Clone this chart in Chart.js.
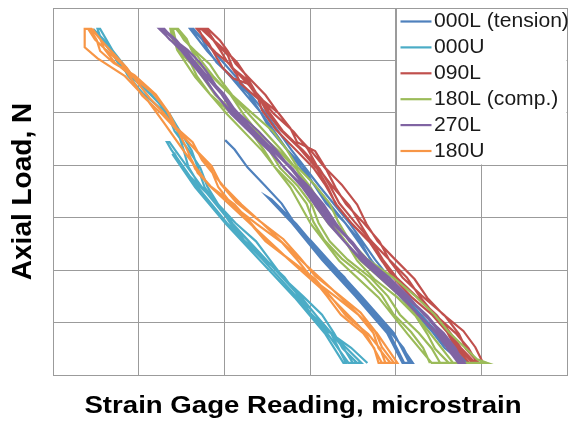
<!DOCTYPE html>
<html>
<head>
<meta charset="utf-8">
<script src="https://cdn.jsdelivr.net/npm/chart.js@4.4.1/dist/chart.umd.min.js"></script>
<style>
  html, body { margin: 0; padding: 0; background: #fff; }
  canvas { display: block; }
</style>
</head>
<body>
<canvas id="chart" width="571" height="421"></canvas>
<script>
// Axis grid (no tick labels in the original, grid units only)
const xMax = 6;
const yMax = 7;

const seriesNames = ['000L (tension)', '000U', '090L', '180L (comp.)', '270L', '180U'];
const seriesColors = ['#4F81BD', '#4BACC6', '#C0504D', '#9BBB59', '#8064A2', '#F79646'];

// [strain reading, axial load] pairs, in grid units
const s000L = [
  [1.62,6.60],[1.74,6.40],[1.81,6.20],[1.91,5.96],[2.07,5.72],[2.28,5.37],[2.42,5.02],[2.54,4.67],[2.72,4.32],[2.92,3.97],[3.05,3.62],[3.19,3.27],[3.40,2.92],[3.58,2.57],[3.70,2.22],[3.84,1.87],[4.04,1.52],[4.27,1.17],[4.43,0.82],[4.57,0.52],[4.78,0.23],
  [4.84,0.23],[4.49,0.80],[4.10,1.50],[3.76,2.20],[3.46,2.90],[3.11,3.60],[2.78,4.30],[2.48,5.00],[2.13,5.70],[1.86,6.20],[1.64,6.60],
  [1.60,6.60],[1.80,6.18],[2.08,5.68],[2.44,4.98],[2.74,4.28],[3.07,3.58],[3.42,2.88],[3.72,2.18],[4.06,1.48],[4.45,0.78],[4.80,0.23]
];
const s000Lb = [
  [2.01,4.48],[2.12,4.30],[2.27,3.96],[2.47,3.62],[2.67,3.27],[2.81,2.92],[2.97,2.57],[3.18,2.22],[3.40,1.87],[3.56,1.52],[3.72,1.17],[3.94,0.82],[4.09,0.52],[4.18,0.23],
  [4.08,0.23],[3.90,0.80],[3.53,1.50],[3.14,2.20],[2.79,2.90],[2.50,3.40],
  [2.55,3.35],[2.84,2.88],[3.20,2.18],[3.59,1.48],[3.97,0.78],[4.20,0.23],
  [4.10,0.23],[3.92,0.82],[3.55,1.52],[3.16,2.22],[2.95,2.60],
  [3.00,2.58],[3.21,2.20],[3.60,1.50],[3.98,0.80],[4.16,0.23]
];
const s000U = [
  [0.47,6.60],[0.59,6.40],[0.67,6.20],[0.76,5.95],[0.90,5.70],[1.15,5.35],[1.33,5.00],[1.42,4.65],[1.58,4.30],[1.72,3.95],[1.80,3.60],[1.93,3.25],[2.13,2.90],[2.37,2.55],[2.53,2.20],[2.69,1.85],[2.92,1.50],[3.14,1.15],[3.28,0.80],[3.38,0.51],[3.55,0.23],
  [3.45,0.23],[3.20,0.80],[2.84,1.50],[2.45,2.20],[2.03,2.90],[1.68,3.60],[1.38,4.30],[1.33,4.44],
  [1.36,4.44],[1.43,4.28],[1.74,3.58],[2.09,2.88],[2.50,2.18],[2.89,1.48],[3.26,0.78],[3.60,0.23],
  [3.50,0.23],[3.39,0.52],[3.23,0.82],[3.01,1.17],[2.86,1.52],[2.70,1.87],[2.47,2.22],[2.23,2.57],[2.06,2.92],[1.92,3.27],[1.71,3.62],[1.58,3.97],[1.52,4.32],[1.45,4.67],[1.30,5.02],[1.05,5.37],[0.87,5.72],[0.79,5.97],[0.65,6.22],[0.56,6.41],[0.52,6.60],
  [0.55,6.60],[0.70,6.18],[0.94,5.68],[1.36,4.98],[1.62,4.28],[1.77,3.58],[2.10,2.88],[2.50,2.18],[2.90,1.48],[3.25,0.78],[3.42,0.23],
  [3.39,0.23],[3.18,0.78],[2.82,1.48],[2.42,2.18],[2.02,2.88],[1.66,3.58],[1.40,4.20],
  [1.42,4.22],[1.52,3.92],[1.70,3.62],[1.92,3.27],[2.06,2.92],[2.22,2.57],[2.46,2.22],[2.70,1.87],[2.86,1.52],[3.00,1.17],[3.22,0.82],[3.48,0.52],[3.67,0.23]
];
const s090L = [
  [4.97,0.23],[4.82,0.50],[4.74,0.78],[4.57,1.14],[4.30,1.52],[4.08,1.86],[3.93,2.18],[3.81,2.55],[3.61,2.93],[3.42,3.26],[3.30,3.57],[3.19,3.92],[3.01,4.28],[2.79,4.66],[2.62,5.02],[2.48,5.34],[2.28,5.68],[2.13,5.94],[2.04,6.18],[1.95,6.38],[1.81,6.60],
  [1.70,6.60],[1.77,6.37],[1.90,6.15],[2.05,5.95],[2.14,5.74],[2.19,5.56],[2.30,5.40],[2.43,5.22],[2.49,5.03],[2.65,4.68],[2.88,4.32],[3.08,3.94],[3.21,3.58],[3.30,3.26],[3.47,2.92],[3.68,2.57],[3.82,2.23],[3.97,1.86],[4.19,1.48],[4.43,1.14],[4.60,0.82],[4.70,0.52],[4.86,0.23],
  [5.02,0.23],[4.93,0.53],[4.79,0.84],[4.55,1.16],[4.37,1.47],[4.22,1.83],[3.99,2.21],[3.79,2.55],[3.66,2.88],[3.55,3.25],[3.37,3.63],[3.18,3.95],[3.06,4.27],[2.85,4.44],[2.77,4.71],[2.63,5.00],[2.45,5.24],[2.33,5.46],[2.25,5.65],[2.10,5.85],[2.04,6.10],[1.89,6.36],[1.79,6.60],
  [1.68,6.60],[1.82,6.32],[1.91,6.05],[1.98,5.86],[2.10,5.66],[2.28,5.55],[2.39,5.30],[2.44,5.05],[2.60,4.68],[2.83,4.30],[3.04,3.95],[3.18,3.62],[3.31,3.25],[3.50,2.86],[3.71,2.51],[3.84,2.17],[3.99,1.86],[4.22,1.53],[4.46,1.14],[4.63,0.77],[4.74,0.50],[4.90,0.23],
  [4.95,0.23],[4.85,0.51],[4.70,0.80],[4.45,1.16],[4.28,1.50],[4.13,1.86],[3.90,2.24],[3.70,2.58],[3.58,2.90],[3.46,3.23],[3.27,3.58],[3.09,3.96],[2.97,4.32],[2.81,4.64],[2.58,4.98],[2.38,5.36],[2.25,5.72],[2.15,5.96],[1.99,6.22],[1.85,6.42],[1.76,6.60],
  [1.73,6.60],[1.87,6.39],[1.95,6.20],[2.04,5.96],[2.19,5.70],[2.39,5.35],[2.52,5.02],[2.68,4.66],[2.92,4.28],[3.11,3.94],[3.23,3.62],[3.34,3.28],[3.52,2.92],[3.72,2.55],[3.85,2.20],[4.01,1.86],[4.24,1.50],[4.48,1.14],[4.64,0.80],[4.76,0.52],[4.93,0.23]
];
const s180L = [
  [4.40,0.23],[4.32,0.52],[4.18,0.82],[3.97,1.17],[3.84,1.52],[3.64,1.87],[3.37,2.22],[3.17,2.57],[3.04,2.92],[2.96,3.27],[2.80,3.62],[2.59,3.96],[2.46,4.30],[2.30,4.66],[2.06,5.02],[1.83,5.36],[1.68,5.70],[1.61,5.94],[1.47,6.18],[1.40,6.39],[1.37,6.60],
  [1.46,6.60],[1.56,6.41],[1.61,6.22],[1.69,5.97],[1.84,5.72],[2.07,5.35],[2.22,4.98],[2.39,4.63],[2.63,4.28],[2.84,3.93],[2.97,3.58],[3.06,3.23],[3.22,2.88],[3.42,2.53],[3.55,2.18],[3.75,1.83],[4.02,1.48],[4.23,1.13],[4.37,0.78],[4.46,0.50],[4.62,0.23],
  [4.52,0.23],[4.42,0.51],[4.27,0.80],[4.05,1.15],[3.91,1.50],[3.71,1.85],[3.44,2.20],[3.23,2.55],[3.10,2.90],[3.02,3.25],[2.86,3.60],[2.65,3.95],[2.52,4.30],[2.36,4.65],[2.12,5.00],[1.89,5.35],[1.74,5.70],[1.66,5.95],[1.51,6.20],[1.43,6.40],[1.40,6.60],
  [1.45,6.60],[1.53,6.39],[1.66,6.18],[1.83,5.93],[1.93,5.68],[2.09,5.34],[2.32,5.00],[2.56,4.66],[2.72,4.32],[2.85,3.97],[3.06,3.62],[3.23,3.27],[3.33,2.92],[3.46,2.57],[3.66,2.22],[3.97,1.86],[4.22,1.52],[4.45,1.16],[4.62,0.82],[4.95,0.30],[5.07,0.23],
  [4.42,0.23],[4.14,0.78],[3.80,1.48],[3.34,2.18],[3.01,2.88],[2.77,3.58],[2.44,4.28],[2.03,4.98],[1.66,5.68],[1.45,6.20],[1.38,6.60],
  [1.44,6.60],[1.63,6.20],[1.87,5.70],[2.26,5.02],[2.66,4.30],[3.00,3.60],[3.25,2.90],[3.58,2.20],[4.06,1.50],[4.40,0.80],[4.67,0.23]
];
const s270L = [
  [4.74,0.23],[4.64,0.51],[4.49,0.80],[4.26,1.15],[4.08,1.50],[3.87,1.85],[3.61,2.20],[3.40,2.55],[3.23,2.90],[3.10,3.25],[2.92,3.60],[2.70,3.95],[2.53,4.30],[2.33,4.65],[2.09,5.00],[1.90,5.35],[1.76,5.70],[1.66,5.95],[1.51,6.20],[1.36,6.40],[1.25,6.60],
  [1.29,6.60],[1.44,6.39],[1.55,6.18],[1.66,5.93],[1.81,5.68],[2.00,5.35],[2.14,5.02],[2.34,4.65],[2.58,4.28],[2.80,3.93],[2.97,3.58],[3.11,3.23],[3.29,2.88],[3.50,2.53],[3.66,2.18],[3.88,1.83],[4.14,1.48],[4.37,1.13],[4.55,0.78],[4.65,0.50],[4.80,0.23],
  [4.76,0.23],[4.61,0.52],[4.51,0.82],[4.33,1.17],[4.10,1.52],[3.84,1.87],[3.62,2.22],[3.46,2.57],[3.25,2.92],[3.07,3.27],[2.93,3.62],[2.76,3.97],[2.54,4.32],[2.30,4.67],[2.10,5.02],[1.96,5.37],[1.77,5.72],[1.62,5.97],[1.52,6.22],[1.41,6.41],[1.26,6.60],
  [1.30,6.60],[1.41,6.40],[1.57,6.20],[1.72,5.95],[1.83,5.70],[1.97,5.35],[2.16,5.00],[2.40,4.65],[2.60,4.30],[2.77,3.95],[2.98,3.60],[3.16,3.25],[3.30,2.90],[3.46,2.55],[3.67,2.20],[3.93,1.85],[4.15,1.50],[4.33,1.15],[4.56,0.80],[4.70,0.51],[4.79,0.23],
  [4.73,0.23],[4.48,0.78],[4.07,1.48],[3.60,2.18],[3.22,2.88],[2.91,3.58],[2.52,4.28],[2.08,4.98],[1.75,5.68],[1.50,6.18],[1.24,6.60],
  [1.28,6.60],[1.56,6.16],[1.82,5.66],[2.15,4.98],[2.59,4.26],[2.99,3.56],[3.31,2.86],[3.68,2.16],[4.16,1.46],[4.57,0.76],[4.81,0.23]
];
const s180U = [
  [0.46,6.60],[0.58,6.35],[0.86,5.86],[0.98,5.59],[1.13,5.28],[1.28,5.02],[1.40,4.77],[1.63,4.44],[1.74,4.10],[1.98,3.62],[2.20,3.25],[2.44,2.90],[2.90,2.18],[3.36,1.48],[3.78,0.80],[4.02,0.23],
  [3.84,0.23],[3.64,0.82],[3.22,1.52],[2.74,2.22],[2.28,2.92],[1.82,3.62],[1.55,4.22],[1.30,4.80],[1.10,5.25],[0.84,5.70],[0.52,6.04],[0.37,6.25],[0.37,6.60],
  [0.43,6.60],[0.51,6.39],[0.55,6.18],[0.71,5.95],[0.95,5.72],[1.20,5.35],[1.36,4.98],[1.46,4.64],[1.66,4.30],[1.84,3.94],[1.93,3.58],[2.10,3.23],[2.38,2.88],[2.67,2.53],[2.86,2.18],[3.03,1.83],[3.31,1.48],[3.57,1.14],[3.74,0.80],[3.80,0.51],[3.94,0.23],
  [3.88,0.23],[3.82,0.50],[3.68,0.78],[3.42,1.13],[3.25,1.48],[3.06,1.83],[2.78,2.18],[2.50,2.53],[2.32,2.88],[2.13,3.23],[1.85,3.58],[1.66,3.93],[1.57,4.28],[1.47,4.63],[1.27,4.98],[1.04,5.33],[0.90,5.68],[0.80,5.94],[0.62,6.20],[0.49,6.40],[0.41,6.60],
  [0.45,6.60],[0.55,6.41],[0.60,6.22],[0.72,5.96],[0.92,5.70],[1.17,5.37],[1.33,5.04],[1.44,4.69],[1.64,4.34],[1.85,3.99],[1.96,3.64],[2.14,3.29],[2.41,2.94],[2.69,2.59],[2.88,2.24],[3.06,1.89],[3.33,1.54],[3.59,1.19],[3.76,0.84],[3.84,0.53],[3.98,0.23],
  [3.80,0.23],[3.75,0.51],[3.62,0.80],[3.36,1.15],[3.20,1.50],[3.03,1.85],[2.76,2.20],[2.48,2.55],[2.30,2.90],[2.12,3.25],[1.84,3.60],[1.69,3.85],[1.62,4.10]
];

const gridColor = '#9b9b9b';

// series index -> point lists (000L has a second, lower group of cycles)
const runs = [
  { s: 0, pts: s000L }, { s: 0, pts: s000Lb },
  { s: 1, pts: s000U },
  { s: 2, pts: s090L },
  { s: 3, pts: s180L },
  { s: 4, pts: s270L },
  { s: 5, pts: s180U }
];

const datasets = runs.map((r) => ({
  label: seriesNames[r.s],
  data: r.pts.map(p => ({ x: p[0], y: p[1] })),
  showLine: true,
  borderColor: seriesColors[r.s],
  backgroundColor: seriesColors[r.s],
  borderWidth: 2.2,
  pointRadius: 0,
  tension: 0,
  fill: false,
  order: 10 - r.s   // later series drawn on top, as in the original
}));

// white legend box over the top-right grid cells + x axis title
const overlay = {
  id: 'overlay',
  afterDraw(chart) {
    const ctx = chart.ctx;
    const xs = chart.scales.x, ys = chart.scales.y;
    const x0 = Math.round(xs.getPixelForValue(4)) + 0.5;
    const x1 = Math.round(xs.getPixelForValue(6)) - 0.5;
    const y0 = Math.round(ys.getPixelForValue(7)) + 0.5;
    const y1 = Math.round(ys.getPixelForValue(4)) - 0.5;
    ctx.save();
    ctx.fillStyle = '#fff';
    ctx.fillRect(x0, y0, x1 - x0, y1 - y0);
    ctx.strokeStyle = gridColor;
    ctx.lineWidth = 1;
    ctx.strokeRect(x0, y0, x1 - x0 + 1, y1 - y0 + 1);

    ctx.font = '20px "Liberation Sans", Arial, sans-serif';
    ctx.textBaseline = 'middle';
    ctx.fillStyle = '#1a1a1a';
    seriesNames.forEach((name, i) => {
      const y = y0 + 13 + i * 25.9;
      ctx.strokeStyle = seriesColors[i];
      ctx.lineWidth = 2.2;
      ctx.beginPath();
      ctx.moveTo(x0 + 4, y);
      ctx.lineTo(x0 + 35, y);
      ctx.stroke();
      ctx.save();
      ctx.translate(x0 + 37.5, y);
      ctx.scale(1.055, 1);
      ctx.fillText(name, 0, 0);
      ctx.restore();
    });

    // x axis title
    ctx.font = 'bold 24px "Liberation Sans", Arial, sans-serif';
    ctx.textBaseline = 'alphabetic';
    ctx.textAlign = 'center';
    ctx.fillStyle = '#000';
    ctx.translate(303, 413);
    ctx.scale(1.15, 1);
    ctx.fillText('Strain Gage Reading, microstrain', 0, 0);
    ctx.restore();
  }
};

new Chart(document.getElementById('chart').getContext('2d'), {
  type: 'scatter',
  data: { datasets: datasets },
  options: {
    responsive: false,
    devicePixelRatio: 1,
    animation: false,
    layout: { padding: { left: 0, right: 4, top: 8, bottom: 46 } },
    plugins: {
      legend: { display: false },
      tooltip: { enabled: false }
    },
    scales: {
      x: {
        type: 'linear',
        min: 0,
        max: xMax,
        ticks: { display: false, stepSize: 1 },
        grid: { color: gridColor, lineWidth: 1, drawTicks: false },
        border: { color: gridColor, width: 1 }
      },
      y: {
        type: 'linear',
        min: 0,
        max: yMax,
        ticks: { display: false, stepSize: 1 },
        grid: { color: gridColor, lineWidth: 1, drawTicks: false },
        border: { color: gridColor, width: 1 },
        title: {
          display: true,
          text: 'Axial Load, N',
          color: '#000',
          font: { family: '"Liberation Sans", Arial, sans-serif', size: 28, weight: 'bold', lineHeight: 1 },
          padding: { top: 9.5, bottom: 15.5 }
        }
      }
    }
  },
  plugins: [overlay]
});
</script>
</body>
</html>
